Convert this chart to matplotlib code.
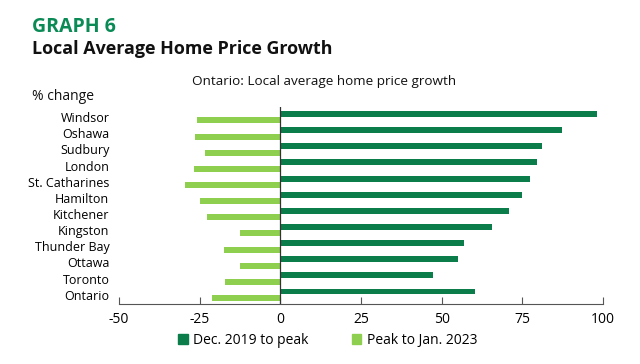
import numpy as np
import matplotlib
matplotlib.use("Agg")
import matplotlib.pyplot as plt
from matplotlib.patches import Patch

# data (top to bottom)
cities = ["Windsor", "Oshawa", "Sudbury", "London", "St. Catharines", "Hamilton",
          "Kitchener", "Kingston", "Thunder Bay", "Ottawa", "Toronto", "Ontario"]
dec2019_to_peak = [98.3, 87.4, 81.2, 79.5, 77.5, 74.9, 71.0, 65.7, 56.9, 55.1, 47.4, 60.2]
peak_to_jan2023 = [-25.7, -26.5, -23.4, -26.8, -29.7, -24.9, -22.8, -12.6, -17.5, -12.4, -17.2, -21.2]
x_ticks = [-50, -25, 0, 25, 50, 75, 100]

DARK = "#0a7d4b"
LIGHT = "#8fcf4f"
TITLE_GREEN = "#0a8a55"

plt.rcParams["font.family"] = ["Open Sans", "DejaVu Sans"]

fig = plt.figure(figsize=(6.4, 3.64), dpi=100)
ax = fig.add_axes([0.186, 0.165, 0.756, 0.541])

n = len(cities)
y = np.arange(n)[::-1]
h = 0.37
ax.barh(y + 0.2, dec2019_to_peak, height=h, color=DARK)
ax.barh(y - 0.2, peak_to_jan2023, height=h, color=LIGHT)

ax.set_xlim(-50, 100)
ax.set_ylim(-0.57, 11.63)
ax.set_xticks(x_ticks)
ax.set_xticklabels([str(t) for t in x_ticks], fontsize=10)
ax.set_yticks(y)
ax.set_yticklabels(cities, fontsize=9)
ax.tick_params(axis="y", length=0, pad=7)
ax.tick_params(axis="x", direction="in", length=5, color="#555555", pad=6)

for s in ["top", "right", "left"]:
    ax.spines[s].set_visible(False)
ax.spines["bottom"].set_color("#555555")
ax.axvline(0, color="#333333", lw=0.9)

# titles
fig.text(0.05, 0.912, "GRAPH 6", fontsize=14, fontweight="bold", color=TITLE_GREEN)
fig.text(0.05, 0.853, "Local Average Home Price Growth", fontsize=12.9, fontweight="bold", color="#111111")
fig.text(0.507, 0.775, "Ontario: Local average home price growth", fontsize=9.7,
         ha="center", va="center", color="#111111")
fig.text(0.05, 0.734, "% change", fontsize=10, va="center", color="#111111")

handles = [Patch(color=DARK), Patch(color=LIGHT)]
fig.legend(handles, ["Dec. 2019 to peak", "Peak to Jan. 2023"], loc="center",
           bbox_to_anchor=(0.512, 0.065), ncol=2, frameon=False, fontsize=10,
           handlelength=0.7, handleheight=0.7, handletextpad=0.4, columnspacing=3.1)

fig.savefig("out.png", dpi=100)
